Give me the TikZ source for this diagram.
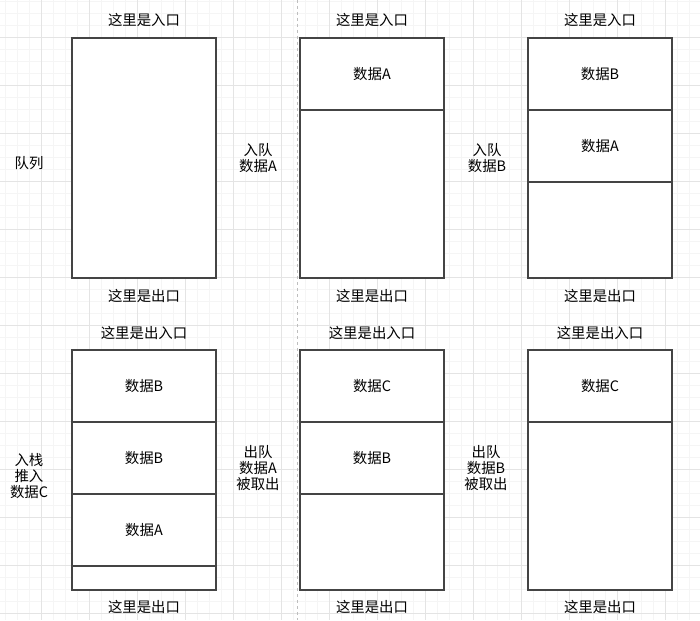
\documentclass[tikz,border=0pt]{standalone}
\usepackage{fontspec}
\setmainfont{Noto Sans CJK SC}
\usepackage{tikz}
\usetikzlibrary{positioning}
\usepackage{xcolor}
\definecolor{boxline}{RGB}{68,68,68}
\definecolor{gridminor}{RGB}{245,245,245}
\definecolor{gridmajor}{RGB}{228,228,228}
\definecolor{sepline}{RGB}{190,190,190}

\begin{document}
\begin{tikzpicture}[x=1pt, y=-1pt,
  queuebox/.style={draw=boxline, line width=1.6pt, fill=white, minimum width=144pt, minimum height=240pt, inner sep=0pt, outer sep=0pt},
  cell/.style={draw=boxline, line width=1.4pt, minimum width=144pt, minimum height=72pt, inner sep=0pt, outer sep=0pt, anchor=north, font=\fontsize{14.4}{16}\selectfont},
  tag/.style={font=\fontsize{14.4}{16}\selectfont, align=center, inner sep=0pt}]
  \useasboundingbox (0,0) rectangle (700,620);
  \fill[white] (0,0) rectangle (700,620);
  % background grid
  \foreach \x in {5.3,17.3,...,700} \draw[gridminor, line width=1pt] (\x,0) -- (\x,620);
  \foreach \y in {1.3,13.3,...,620} \draw[gridminor, line width=1pt] (0,\y) -- (700,\y);
  \foreach \x in {41.3,89.3,...,700} \draw[gridmajor, line width=1pt] (\x,0) -- (\x,620);
  \foreach \y in {37.3,85.3,...,620} \draw[gridmajor, line width=1pt] (0,\y) -- (700,\y);
  \draw[sepline, line width=1pt, dash pattern=on 3pt off 3pt] (297.5,0) -- (297.5,620);

  % queues, top row
  \node[queuebox] (q1) at (144,158) {};
  \node[queuebox] (q2) at (372,158) {};
  \node[queuebox] (q3) at (600,158) {};
  % queues, bottom row
  \node[queuebox] (q4) at (144,470) {};
  \node[queuebox] (q5) at (372,470) {};
  \node[queuebox] (q6) at (600,470) {};

  % cells
  \node[cell] (q2a) at (q2.north) {数据A};
  \node[cell] (q3b) at (q3.north) {数据B};
  \node[cell] (q3a) at (q3b.south) {数据A};
  \node[cell] (q4b) at (q4.north) {数据B};
  \node[cell] (q4bb) at (q4b.south) {数据B};
  \node[cell] (q4a) at (q4bb.south) {数据A};
  \node[cell] (q5c) at (q5.north) {数据C};
  \node[cell] (q5b) at (q5c.south) {数据B};
  \node[cell] (q6c) at (q6.north) {数据C};

  % entry / exit labels
  \node[tag, above=11pt of q1] (in1) {这里是入口};
  \node[tag, above=11pt of q2] (in2) {这里是入口};
  \node[tag, above=11pt of q3] (in3) {这里是入口};
  \node[tag, below=11pt of q1] (out1) {这里是出口};
  \node[tag, below=11pt of q2] (out2) {这里是出口};
  \node[tag, below=11pt of q3] (out3) {这里是出口};
  \node[tag, above=10pt of q4] (in4) {这里是出入口};
  \node[tag, above=10pt of q5] (in5) {这里是出入口};
  \node[tag, above=10pt of q6] (in6) {这里是出入口};
  \node[tag, below=10pt of q4] (out4) {这里是出口};
  \node[tag, below=10pt of q5] (out5) {这里是出口};
  \node[tag, below=10pt of q6] (out6) {这里是出口};

  % step notes
  \node[tag] (name) at (29,163) {队列};
  \node[tag] (stepA) at (258,158) {入队\\数据A};
  \node[tag] (stepB) at (487,158) {入队\\数据B};
  \node[tag] (stepC) at (29,476) {入栈\\推入\\数据C};
  \node[tag] (popA) at (258,468) {出队\\数据A\\被取出};
  \node[tag] (popB) at (486,468) {出队\\数据B\\被取出};
\end{tikzpicture}
\end{document}
